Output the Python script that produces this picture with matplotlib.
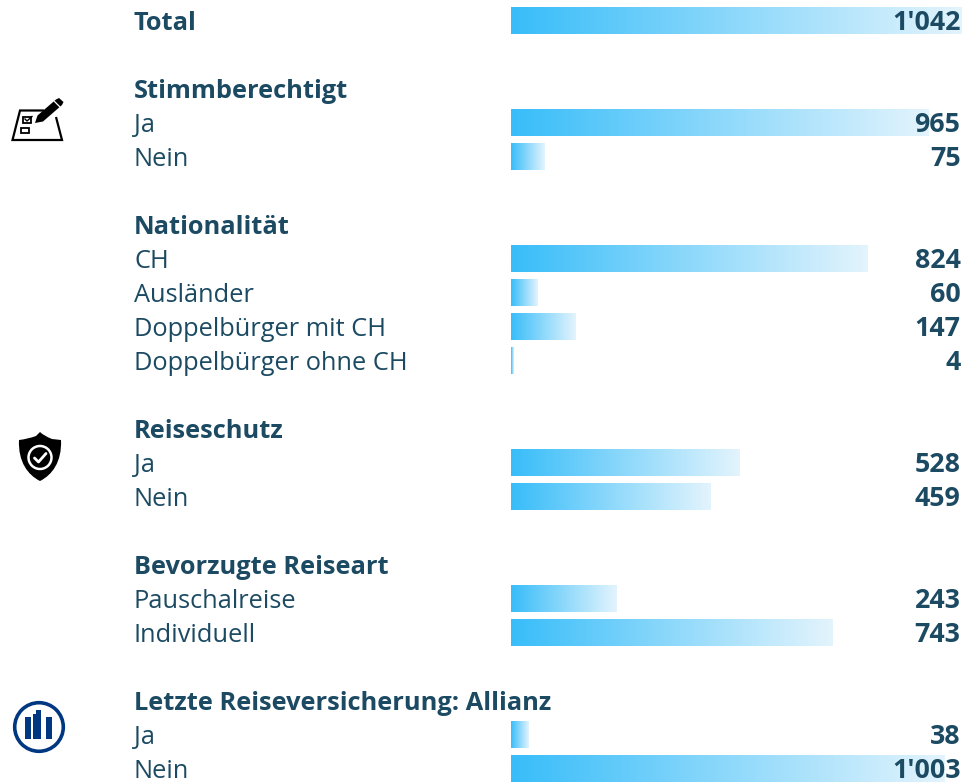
import numpy as np
import matplotlib
matplotlib.use("Agg")
import matplotlib.pyplot as plt
from matplotlib.colors import LinearSegmentedColormap
from matplotlib.patches import Polygon, Circle, Rectangle, PathPatch
from matplotlib.path import Path

plt.rcParams['font.family'] = ['Open Sans', 'DejaVu Sans']

# ---- data -------------------------------------------------------------
headers = ["Stimmberechtigt", "Nationalität", "Reiseschutz",
           "Bevorzugte Reiseart", "Letzte Reiseversicherung: Allianz"]
total_label = "Total"
total_value = 1042
group_labels = [
    ["Ja", "Nein"],
    ["CH", "Ausländer", "Doppelbürger mit CH", "Doppelbürger ohne CH"],
    ["Ja", "Nein"],
    ["Pauschalreise", "Individuell"],
    ["Ja", "Nein"],
]
group_values = [
    [965, 75],
    [824, 60, 147, 4],
    [528, 459],
    [243, 743],
    [38, 1003],
]

# ---- layout -----------------------------------------------------------
W, H = 970, 783
PX_PER_UNIT = 0.4315
X0 = 512.0
BAR_START = -2.3
ROW0 = 21.0
ROW_H = 34.0
BAR_H = 0.79
TEXT_C = "#1B4A62"
LABEL_X = 134
VALUE_X = 960.5
LABEL_FS = 18.3
HEAD_FS = 18.3
VALUE_FS = 19.3
TEXT_NUDGE = -0.02

cmap = LinearSegmentedColormap.from_list("bar", ["#38BDF9", "#E3F4FD"])
grad = np.linspace(0, 1, 256).reshape(1, -1)

fig = plt.figure(figsize=(W / 100, H / 100), dpi=100)
ax = fig.add_axes([0, 0, 1, 1])
ax.axis("off")


def label(px, row, s, **kw):
    ax.text(px / W, row + TEXT_NUDGE, s, transform=ax.get_yaxis_transform(),
            va="center_baseline", color=TEXT_C, **kw)


def bar(row, value):
    ax.imshow(grad, cmap=cmap, aspect="auto", interpolation="bilinear",
              extent=(BAR_START, value, row + BAR_H / 2, row - BAR_H / 2), zorder=1)


def data_row(row, name, value, bold=False):
    label(LABEL_X, row, name, fontsize=HEAD_FS if bold else LABEL_FS,
          fontweight="bold" if bold else "normal")
    bar(row, value)
    label(VALUE_X, row, f"{value:,}".replace(",", "'"), fontsize=VALUE_FS,
          fontweight="bold", ha="right", zorder=3)


data_row(0, total_label, total_value, bold=True)
row = 2
for head, names, vals in zip(headers, group_labels, group_values):
    label(LABEL_X, row, head, fontsize=HEAD_FS, fontweight="bold")
    row += 1
    for n, v in zip(names, vals):
        data_row(row, n, v)
        row += 1
    row += 1

ax.set_xlim(-X0 / PX_PER_UNIT, (W - X0) / PX_PER_UNIT)
ax.set_ylim((H - ROW0) / ROW_H, -ROW0 / ROW_H)

# ---- icons (pixel coordinates overlay) --------------------------------
ic = fig.add_axes([0, 0, 1, 1], facecolor="none")
ic.set_xlim(0, W)
ic.set_ylim(H, 0)
ic.axis("off")

# ballot sheet with pencil
ic.add_patch(Polygon([(44, 110.5), (20, 110.5), (12.5, 140), (62, 140), (56, 117)],
                     closed=False, fill=False, ec="black", lw=1.6, joinstyle="miter"))
ic.add_patch(Rectangle((23.5, 117), 8, 6, fill=False, ec="black", lw=1.3))
ic.add_patch(Rectangle((21.5, 127.5), 7.5, 5.5, fill=False, ec="black", lw=1.3))
ic.plot([25, 27, 32], [119, 121, 116.5], color="black", lw=1)
ic.add_patch(Polygon([(35, 123), (37.5, 115.5), (56, 99.5), (59, 98), (63.5, 102),
                      (62, 105), (43, 121.5)], closed=True, fc="black", ec="none"))
ic.plot([54.5, 60], [101.5, 107], color="white", lw=0.9)

# shield
verts = [(40, 432), (44, 436), (52, 439), (61, 440), (61, 440),
         (62, 462), (52, 475), (40, 481),
         (28, 475), (18, 462), (19, 440), (19, 440),
         (28, 439), (36, 436), (40, 432), (40, 432)]
codes = [Path.MOVETO, Path.CURVE3, Path.CURVE3, Path.LINETO, Path.LINETO,
         Path.CURVE4, Path.CURVE4, Path.CURVE4,
         Path.CURVE4, Path.CURVE4, Path.CURVE4, Path.LINETO,
         Path.CURVE3, Path.CURVE3, Path.LINETO, Path.CLOSEPOLY]
ic.add_patch(PathPatch(Path(verts, codes), fc="black", ec="none"))
ic.add_patch(Circle((40, 457.5), 11.5, fc="none", ec="white", lw=1.8))
ic.plot([34.5, 38.5, 46], [458, 462, 453.5], color="white", lw=2,
        solid_capstyle="round", solid_joinstyle="round")

# Allianz logo
BLUE = "#003781"
ic.add_patch(Circle((39, 727), 24.3, fc="none", ec=BLUE, lw=2.6))
ic.add_patch(Rectangle((25, 717), 6.5, 22, fc=BLUE, ec="none"))
ic.add_patch(Polygon([(33.5, 714), (36.5, 714), (36.5, 710), (41.5, 710), (41.5, 739), (33.5, 739)],
                     closed=True, fc=BLUE, ec="none"))
ic.add_patch(Rectangle((46, 717), 6.5, 22, fc=BLUE, ec="none"))

fig.savefig("out.png", dpi=100)
